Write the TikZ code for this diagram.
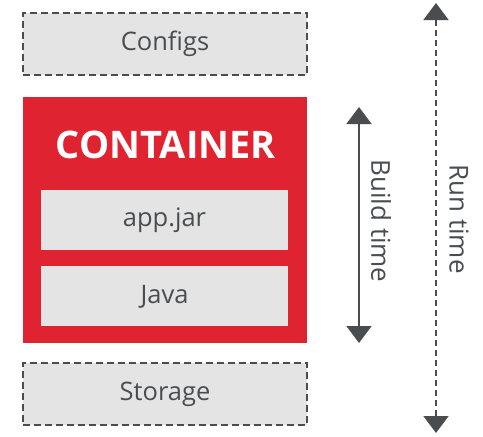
\documentclass[tikz,border=0pt]{standalone}
\usepackage{fontspec}
\setmainfont{Open Sans}
\usetikzlibrary{arrows.meta,positioning}
\definecolor{rhred}{HTML}{E02331}
\definecolor{boxgray}{HTML}{E4E4E4}
\definecolor{inkgray}{HTML}{4A4D50}
\begin{document}
\begin{tikzpicture}[x=1pt, y=-1pt,
    ext box/.style={rectangle, draw=inkgray, fill=boxgray, line width=2pt, dash pattern=on 7pt off 4pt, minimum width=284pt, minimum height=62pt, text=inkgray, font=\fontsize{25.5}{28}\selectfont},
    inner box/.style={rectangle, fill=boxgray, minimum width=247pt, minimum height=60pt, text=inkgray, font=\fontsize{25.5}{28}\selectfont},
    time arrow/.style={<->, >={Triangle[width=25pt, length=17pt]}, draw=inkgray, line width=2pt},
    time label/.style={rotate=-90, text=inkgray, font=\fontsize{26}{29}\selectfont}]
        \useasboundingbox (0,0) rectangle (483,437);
        \fill[white] (0,0) rectangle (483,437);

          \node[ext box] (configs) at (165,44) {Configs};
          \node[rectangle, fill=rhred, minimum width=284pt, minimum height=246pt] (container) at (165,220) {};
          \node[text=white, font=\fontsize{38}{42}\selectfont\bfseries] (title) at (166,145) {CONTAINER};
          \node[inner box] (appjar) at (164.5,220) {app.jar};
          \node[inner box, below=16pt of appjar] (java) {Java};
          \node[ext box] (storage) at (165,394) {Storage};

          \coordinate (build top) at (359,107);
          \coordinate (build bot) at (359,343);
          \coordinate (run top) at (436,3);
          \coordinate (run bot) at (436,433);

          \draw[time arrow] (build top) -- (build bot);
          \draw[time arrow, dash pattern=on 6pt off 4pt] (run top) -- (run bot);
          \node[time label] (build) at (381,221) {Build time};
          \node[time label] (run) at (459,219) {Run time};

        \end{tikzpicture}
\end{document}
